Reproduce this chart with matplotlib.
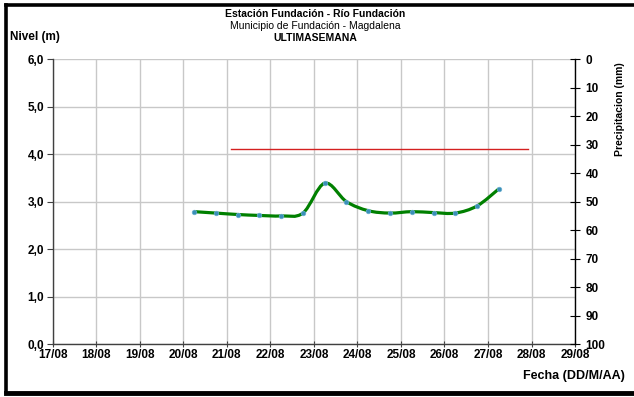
import matplotlib
matplotlib.use("Agg")
import matplotlib.pyplot as plt
import matplotlib.dates as mdates
import numpy as np
import pandas as pd
from matplotlib.path import Path
from matplotlib.patches import PathPatch

plt.rcParams["font.family"] = ["Liberation Sans", "DejaVu Sans"]

# readings every 12 h (nivel en metros)
times = ["20/08 06:00", "20/08 18:00", "21/08 06:00", "21/08 18:00", "22/08 06:00",
         "22/08 18:00", "23/08 06:00", "23/08 18:00", "24/08 06:00", "24/08 18:00",
         "25/08 06:00", "25/08 18:00", "26/08 06:00", "26/08 18:00", "27/08 06:00"]
nivel = [2.79, 2.76, 2.73, 2.71, 2.70, 2.76, 3.39, 3.00, 2.81, 2.76,
         2.79, 2.77, 2.76, 2.91, 3.27]

alerta_nivel = 4.1
alerta_desde = "21/08 02:30"
alerta_hasta = "27/08 22:00"

dias = ["17/08", "18/08", "19/08", "20/08", "21/08", "22/08", "23/08",
        "24/08", "25/08", "26/08", "27/08", "28/08", "29/08"]
nivel_ticks = [0, 1, 2, 3, 4, 5, 6]
precip_ticks = list(range(0, 101, 10))

fmt = "%d/%m %H:%M"
t = mdates.date2num(pd.to_datetime(times, format=fmt))
day_pos = mdates.date2num(pd.to_datetime(dias, format="%d/%m"))
a0 = mdates.date2num(pd.to_datetime(alerta_desde, format=fmt))
a1 = mdates.date2num(pd.to_datetime(alerta_hasta, format=fmt))

fig = plt.figure(figsize=(6.34, 3.97), dpi=100)
ax = fig.add_axes([0.083, 0.133, 0.824, 0.718])

ax.set_xlim(day_pos[0], day_pos[-1])
ax.set_ylim(0, 6)
ax.set_xticks(day_pos)
ax.set_xticklabels(dias)
ax.set_yticks(nivel_ticks)
ax.set_yticklabels([f"{v:.1f}".replace(".", ",") for v in nivel_ticks])
ax.grid(True, color="#c8c8c8", lw=1.0)
ax.set_axisbelow(True)
for s in ["top", "right"]:
    ax.spines[s].set_visible(False)
for s in ["left", "bottom"]:
    ax.spines[s].set_color("#404040")
    ax.spines[s].set_linewidth(1.0)
ax.tick_params(axis="both", labelsize=8.5, length=4, color="#404040", pad=2)
ax.tick_params(axis="x", direction="inout", length=5, pad=1)
for lab in ax.get_xticklabels() + ax.get_yticklabels():
    lab.set_fontweight("bold")

# threshold line
ax.plot([a0, a1], [alerta_nivel, alerta_nivel], color="#d42020", lw=1.0, zorder=3)

# smoothed line (Excel style bezier through the readings)
pts = np.column_stack([t, nivel])
verts = [pts[0]]
codes = [Path.MOVETO]
n = len(pts)
for i in range(n - 1):
    p_prev = pts[i - 1] if i > 0 else pts[i]
    p_next2 = pts[i + 2] if i + 2 < n else pts[i + 1]
    c1 = pts[i] + (pts[i + 1] - p_prev) / 6.0
    c2 = pts[i + 1] - (p_next2 - pts[i]) / 6.0
    verts += [c1, c2, pts[i + 1]]
    codes += [Path.CURVE4] * 3
ax.add_patch(PathPatch(Path(verts, codes), fill=False, edgecolor="#008000", lw=2.3, zorder=4))
ax.plot(t, nivel, "o", ms=3.3, color="#3a8fb8", mec="#6aaed0", mew=0.5, zorder=5)

# secondary axis (precipitacion, inverted)
ax2 = ax.twinx()
ax2.set_ylim(100, 0)
ax2.set_yticks(precip_ticks)
for s in ["top", "left", "bottom"]:
    ax2.spines[s].set_visible(False)
ax2.spines["right"].set_color("black")
ax2.spines["right"].set_linewidth(1.0)
ax2.tick_params(axis="y", direction="inout", length=7, labelsize=8.5, pad=4)
for lab in ax2.get_yticklabels():
    lab.set_fontweight("bold")

# titles and labels
fig.text(0.497, 0.965, "Estación Fundación - Río Fundación", ha="center", va="center",
         fontsize=7.5, fontweight="bold")
fig.text(0.497, 0.935, "Municipio de Fundación - Magdalena", ha="center", va="center",
         fontsize=7.5)
fig.text(0.497, 0.905, "ULTIMASEMANA", ha="center", va="center",
         fontsize=7.5, fontweight="bold")
fig.text(0.016, 0.907, "Nivel (m)", ha="left", va="center", fontsize=8.5, fontweight="bold")
fig.text(0.978, 0.725, "Precipitacion (mm)", ha="center", va="center", rotation=90,
         fontsize=7.5, fontweight="bold")
fig.text(0.986, 0.052, "Fecha (DD/M/AA)", ha="right", va="center",
         fontsize=9, fontweight="bold")

# outer frame (left, top, bottom)
x0 = 5.5 / 634
fig.lines.append(plt.Line2D([x0, x0], [1 - 392 / 397, 1 - 4.5 / 397],
                            transform=fig.transFigure, color="black", lw=2.6))
fig.lines.append(plt.Line2D([x0, 1], [1 - 4.5 / 397] * 2,
                            transform=fig.transFigure, color="black", lw=2.6))
fig.lines.append(plt.Line2D([x0, 1], [1 - 392.5 / 397] * 2,
                            transform=fig.transFigure, color="black", lw=3.5))

fig.savefig("out.png", dpi=100)
